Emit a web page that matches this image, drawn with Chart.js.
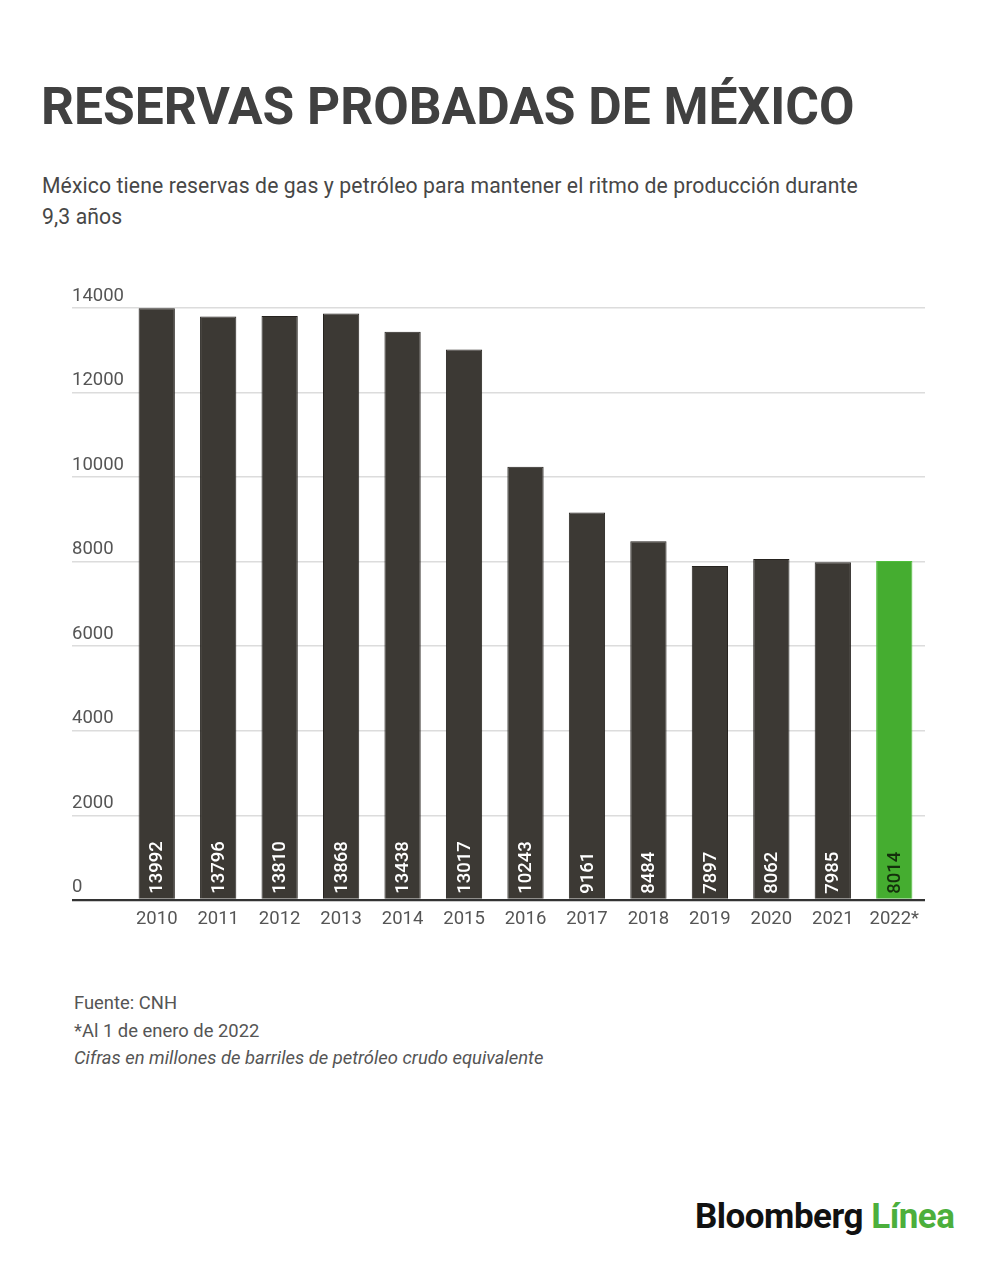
<!DOCTYPE html>
<html lang="es">
<head>
<meta charset="utf-8">
<title>Reservas probadas de México</title>
<script src="https://cdn.jsdelivr.net/npm/chart.js@4.4.1/dist/chart.umd.min.js"></script>
<style>
    html, body {
        margin: 0;
        padding: 0;
        background: #ffffff;
    }
    body {
        width: 1000px;
        height: 1261px;
        position: relative;
        overflow: hidden;
        font-family: Roboto, 'Noto Sans', sans-serif;
    }
    .title {
        position: absolute;
        left: 41px;
        top: 78px;
        margin: 0;
        font-size: 51.5px;
        line-height: 58px;
        font-weight: 700;
        color: #404040;
    }
    .subtitle {
        position: absolute;
        left: 42px;
        top: 170px;
        width: 835px;
        margin: 0;
        font-size: 21.2px;
        line-height: 31px;
        letter-spacing: 0.1px;
        color: #474747;
    }
    .chart-wrap {
        position: absolute;
        left: 0;
        top: 270px;
        width: 1000px;
        height: 670px;
    }
    .notes {
        position: absolute;
        left: 74px;
        top: 989px;
        font-size: 18.4px;
        line-height: 27.5px;
        color: #555555;
    }
    .notes .italic {
        font-style: italic;
    }
    .logo {
        position: absolute;
        left: 695px;
        top: 1196px;
        font-family: Roboto, 'Liberation Sans', sans-serif;
        font-size: 35px;
        font-weight: 700;
        letter-spacing: -0.5px;
        color: #111111;
    }
    .logo span {
        color: #4caf3c;
    }
</style>
</head>
<body>
    <h1 class="title">RESERVAS PROBADAS DE MÉXICO</h1>
    <p class="subtitle">México tiene reservas de gas y petróleo para mantener el ritmo de producción durante 9,3 años</p>

    <div class="chart-wrap">
        <canvas id="reservasChart" width="1000" height="670"></canvas>
    </div>

    <div class="notes">
        <div>Fuente: CNH</div>
        <div>*Al 1 de enero de 2022</div>
        <div class="italic">Cifras en millones de barriles de petróleo crudo equivalente</div>
    </div>

    <div class="logo">Bloomberg <span>Línea</span></div>

<script>
// --- Data ---
const years = ['2010', '2011', '2012', '2013', '2014', '2015', '2016', '2017', '2018', '2019', '2020', '2021', '2022*'];
const reserves = [13992, 13796, 13810, 13868, 13438, 13017, 10243, 9161, 8484, 7897, 8062, 7985, 8014];
const yTicks = [0, 2000, 4000, 6000, 8000, 10000, 12000, 14000];

const darkBar = '#3c3934';
const greenBar = '#45ad30';
const highlightIndex = years.length - 1;

const barColors = years.map((y, i) => i === highlightIndex ? greenBar : darkBar);
const barBorders = years.map((y, i) => i === highlightIndex ? '#4fbf3a' : '#26231f');
const labelColors = years.map((y, i) => i === highlightIndex ? '#14300c' : '#ffffff');

// --- Value labels written vertically inside each bar, from the base up ---
const barLabels = {
    id: 'barLabels',
    afterDatasetsDraw(chart) {
        const c = chart.ctx;
        const meta = chart.getDatasetMeta(0);
        c.save();
        c.font = '500 18.5px Roboto';
        c.textAlign = 'left';
        c.textBaseline = 'middle';
        meta.data.forEach((bar, i) => {
            c.save();
            c.translate(bar.x, bar.base - 5);
            c.rotate(-Math.PI / 2);
            c.fillStyle = labelColors[i];
            c.fillText(String(reserves[i]), 0, 1);
            c.restore();
        });
        c.restore();
    }
};

const ctx = document.getElementById('reservasChart');

new Chart(ctx, {
    type: 'bar',
    data: {
        labels: years,
        datasets: [{
            data: reserves,
            backgroundColor: barColors,
            borderColor: barBorders,
            borderWidth: 1,
            categoryPercentage: 1.0,
            barPercentage: 0.59
        }]
    },
    options: {
        responsive: false,
        animation: false,
        devicePixelRatio: 1,
        layout: {
            padding: { top: 38, right: 75, bottom: 2, left: 72 }
        },
        plugins: {
            legend: { display: false },
            tooltip: { enabled: false }
        },
        scales: {
            x: {
                grid: { display: false, drawTicks: false, tickLength: 0 },
                border: { display: false },
                ticks: {
                    color: '#555555',
                    font: { family: 'Roboto', size: 18.5 },
                    padding: 8,
                    maxRotation: 0
                }
            },
            y: {
                min: 0,
                max: 14000,
                afterBuildTicks(scale) {
                    scale.ticks = yTicks.map(v => ({ value: v }));
                },
                afterFit(scale) {
                    scale.width = 54; // grid ticks reach out to where the labels start
                },
                border: { display: false },
                grid: {
                    color: c => c.tick && c.tick.value === 0 ? '#333333' : '#dcdcdc',
                    tickColor: c => c.tick && c.tick.value === 0 ? '#333333' : '#dcdcdc',
                    lineWidth: c => c.tick && c.tick.value === 0 ? 2.2 : 1.5,
                    tickLength: 54,
                    drawTicks: true
                },
                ticks: {
                    color: '#555555',
                    font: { family: 'Roboto', size: 18.5 },
                    crossAlign: 'far',
                    labelOffset: -12,
                    padding: 0,
                    callback: value => String(value)
                }
            }
        }
    },
    plugins: [barLabels]
});
</script>
</body>
</html>
